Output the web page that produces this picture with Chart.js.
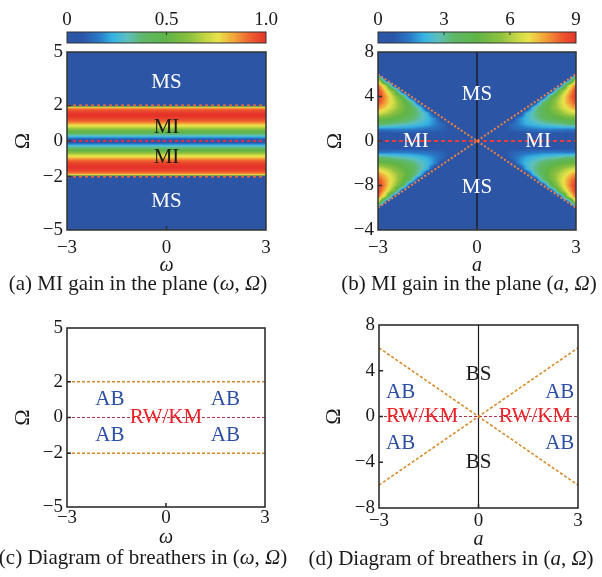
<!DOCTYPE html>
<html lang="en">
<head>
<meta charset="UTF-8" />
<title>MI gain and breathers</title>
<script src="https://cdn.jsdelivr.net/npm/chart.js@4.4.1/dist/chart.umd.min.js"></script>
<style>
body{margin:0;background:#fff;}
#wrap{position:relative;width:602px;height:577px;overflow:hidden;}
.panel{position:absolute;}
.cap{position:absolute;white-space:nowrap;font-family:"Liberation Serif","DejaVu Serif",serif;font-size:21px;line-height:24px;color:#1a1a1a;transform:translateX(-50%);}
</style>
</head>
<body>
<div id="wrap">
  <canvas id="chA" class="panel" style="left:0;top:0" width="301" height="300"></canvas>
  <canvas id="chB" class="panel" style="left:301px;top:0" width="301" height="300"></canvas>
  <canvas id="chC" class="panel" style="left:0;top:300px" width="301" height="277"></canvas>
  <canvas id="chD" class="panel" style="left:301px;top:300px" width="301" height="277"></canvas>
  <div class="cap" style="left:138px;top:271px">(a) MI gain in the plane (<i>ω</i>, <i>Ω</i>)</div>
  <div class="cap" style="left:469px;top:271px">(b) MI gain in the plane (<i>a</i>, <i>Ω</i>)</div>
  <div class="cap" style="left:143px;top:545px">(c) Diagram of breathers in (<i>ω</i>, <i>Ω</i>)</div>
  <div class="cap" style="left:451px;top:546px">(d) Diagram of breathers in (<i>a</i>, <i>Ω</i>)</div>
</div>
<script>
// ---- data ----
const xTicks = [-3, 0, 3];
const xTickLabels = ['−3', '0', '3'];

// (a)/(c): Omega axis
const omegaTicks = [-5, -2, 0, 2, 5];
const omegaTickLabels = ['−5', '−2', '0', '2', '5'];
// (b)/(d): Omega axis (labels as printed)
const omegaTicksB = [-8, -4, 0, 4, 8];
const omegaTickLabelsB = ['−4', '−8', '0', '4', '8'];
const omegaTickLabelsD = ['−8', '−4', '0', '4', '8'];

// colour bars
const cbTicksA = [0, 0.5, 1];
const cbLabelsA = ['0', '0.5', '1.0'];
const cbTicksB = [0, 3, 6, 9];
const cbLabelsB = ['0', '3', '6', '9'];

// (a) normalised gain vs |Omega| (same for every omega)
const profileOmega = [0,0.1,0.2,0.3,0.4,0.5,0.6,0.7,0.8,0.9,1.0,1.1,1.2,1.3,1.4,1.5,1.6,1.7,1.8,1.9,2.0];
const profileGain  = [0,0.10,0.20,0.30,0.38,0.47,0.56,0.64,0.72,0.78,0.85,0.91,0.95,0.98,1.0,1.0,0.98,0.95,0.90,0.78,0];

// (b) gain on a quadrant grid (|a| columns, |Omega| rows)
const gridA = [0,0.25,0.5,0.75,1,1.25,1.5,1.75,2,2.25,2.5,2.75,3];
const gridOmega = [0,0.5,1,1.5,2,2.5,3,3.5,4,4.5,5,5.5,6];
const gridGain = [
  [0,0,0,0,0,0,0,0,0,0,0,0,0],
  [0,0,0.2,0.3,0.4,0.3,0.3,0.3,0.3,0.3,0.3,0.3,0.3],
  [0,0,0,0.6,0.9,1.1,1.2,1.3,1.4,1.4,1.4,1.3,1.3],
  [0,0,0,0,1.0,1.5,2.0,2.3,2.6,2.8,3.0,3.3,3.5],
  [0,0,0,0,0,1.5,2.3,2.9,3.5,4.0,4.4,4.7,5.0],
  [0,0,0,0,0,0,2.1,3.1,3.9,4.7,5.4,6.1,6.6],
  [0,0,0,0,0,0,0,2.7,4.0,5.1,6.1,7.0,7.8],
  [0,0,0,0,0,0,0,0,3.4,4.9,6.3,7.5,8.6],
  [0,0,0,0,0,0,0,0,0,4.1,5.9,7.6,9.0],
  [0,0,0,0,0,0,0,0,0,0,4.9,7.0,8.9],
  [0,0,0,0,0,0,0,0,0,0,0,5.8,8.2],
  [0,0,0,0,0,0,0,0,0,0,0,0,6.8],
  [0,0,0,0,0,0,0,0,0,0,0,0,0]
];

// boundary lines
const lineEnds = [-3, 3];
const bandEdges = [2, -2];
const wedgeA = [-3, 0, 3];
const wedgeUpper = [6, 0, 6];
const wedgeLower = [-6, 0, -6];

// ---- helpers ----
Chart.defaults.font.family = '"Liberation Serif","DejaVu Serif",serif';
Chart.defaults.font.size = 19;
Chart.defaults.color = '#1a1a1a';
Chart.defaults.animation = false;
Chart.defaults.events = [];
Chart.defaults.plugins.legend.display = false;
Chart.defaults.plugins.tooltip.enabled = false;

const stops = [[0,'#2c55a5'],[0.08,'#2b57aa'],[0.16,'#2a78c6'],[0.23,'#35b3e2'],[0.30,'#5cbfc0'],[0.38,'#5fb86a'],
  [0.5,'#5fb445'],[0.62,'#8ec13f'],[0.70,'#c6d745'],[0.76,'#e9e34b'],[0.84,'#f2a43a'],[0.92,'#ee5f2e'],[1,'#e5332a']];
const stopRgb = stops.map(s=>[s[0],parseInt(s[1].slice(1,3),16),parseInt(s[1].slice(3,5),16),parseInt(s[1].slice(5,7),16)]);
function cmap(t){
  t=Math.max(0,Math.min(1,t));
  for(let i=1;i<stopRgb.length;i++){
    if(t<=stopRgb[i][0]){
      const a=stopRgb[i-1],b=stopRgb[i],f=(t-a[0])/(b[0]-a[0]);
      return [a[1]+(b[1]-a[1])*f,a[2]+(b[2]-a[2])*f,a[3]+(b[3]-a[3])*f];
    }
  }
  const l=stopRgb[stopRgb.length-1]; return [l[1],l[2],l[3]];
}
function locate(arr,v){
  const n=arr.length;
  if(v<=arr[0]) return [0,0];
  if(v>=arr[n-1]) return [n-2,1];
  let i=0; while(arr[i+1]<v) i++;
  return [i,(v-arr[i])/(arr[i+1]-arr[i])];
}
function gainA(w,om){
  const o=Math.abs(om);
  if(o>profileOmega[profileOmega.length-1]) return 0;
  const [i,f]=locate(profileOmega,o);
  return profileGain[i]+(profileGain[i+1]-profileGain[i])*f;
}
function gainB(a,om){
  const o=Math.abs(om);
  if(o>gridOmega[gridOmega.length-1]) return 0;
  const [i,fx]=locate(gridA,Math.abs(a));
  const [j,fy]=locate(gridOmega,o);
  const g00=gridGain[j][i],g10=gridGain[j][i+1],g01=gridGain[j+1][i],g11=gridGain[j+1][i+1];
  return (g00*(1-fx)+g10*fx)*(1-fy)+(g01*(1-fx)+g11*fx)*fy;
}

function axis(min,max,ticks,labels,o){
  return {
    type:'linear',min,max,position:o.pos,axis:o.axis,
    afterBuildTicks:s=>{s.ticks=ticks.map(v=>({value:v}));},
    afterFit:s=>{if(o.w!=null)s.width=o.w;if(o.h!=null)s.height=o.h;},
    grid:{display:false,drawTicks:false},
    border:{display:false},
    ticks:{autoSkip:false,maxRotation:0,padding:o.pad,callback:(v,i)=>labels[i]},
    title:o.title?{display:true,text:o.title,font:o.titleFont,padding:o.titlePad,color:'#1a1a1a'}:{display:false}
  };
}
function line(xs,ys,color,width,dash){
  return {data:xs.map((x,i)=>({x,y:ys[i]})),showLine:true,pointRadius:0,borderColor:color,borderWidth:width,borderDash:dash,xAxisID:'x',yAxisID:'y'};
}

function panelPlugin(cfg){
  return {
    id:'panel'+cfg.name,
    beforeDatasetsDraw(chart){
      const {ctx,chartArea:ca,scales:{x,y}}=chart;
      if(cfg.gain){
        const w=Math.round(ca.right-ca.left),h=Math.round(ca.bottom-ca.top);
        const bg=cmap(0);
        ctx.save();
        ctx.fillStyle=`rgb(${bg.map(Math.round).join(',')})`;
        ctx.fillRect(ca.left,ca.top,w,h);
        const off=document.createElement('canvas');off.width=w;off.height=h;
        const oc=off.getContext('2d');const img=oc.createImageData(w,h);
        for(let j=0;j<h;j++){
          const om=y.getValueForPixel(ca.top+j+0.5);
          for(let i=0;i<w;i++){
            const a=x.getValueForPixel(ca.left+i+0.5);
            const c=cmap(cfg.gain(a,om)/cfg.max);const k=(j*w+i)*4;
            img.data[k]=c[0];img.data[k+1]=c[1];img.data[k+2]=c[2];img.data[k+3]=255;
          }
        }
        oc.putImageData(img,0,0);
        if(cfg.clip){
          ctx.beginPath();
          cfg.clip.forEach(poly=>{
            poly.forEach((p,n)=>{const px=x.getPixelForValue(p[0]),py=y.getPixelForValue(p[1]);n?ctx.lineTo(px,py):ctx.moveTo(px,py);});
            ctx.closePath();
          });
          ctx.clip();
        }
        ctx.drawImage(off,ca.left,ca.top);
        ctx.restore();
      }
      if(cfg.cbMax){
        const cb=chart.scales.cb;const top=32,hh=11;
        ctx.save();
        for(let px=Math.floor(cb.left);px<Math.ceil(cb.right);px++){
          const c=cmap(cb.getValueForPixel(px+0.5)/cfg.cbMax);
          ctx.fillStyle=`rgb(${c.map(Math.round).join(',')})`;
          ctx.fillRect(px,top,1,hh);
        }
        ctx.strokeStyle='#333';ctx.lineWidth=1;
        ctx.strokeRect(cb.left,top,cb.right-cb.left,hh);
        ctx.beginPath();
        cb.ticks.slice(1,-1).forEach(t=>{const px=cb.getPixelForValue(t.value);ctx.moveTo(px,top);ctx.lineTo(px,top+3);});
        ctx.stroke();
        ctx.restore();
      }
    },
    afterDatasetsDraw(chart){
      const {ctx,chartArea:ca,scales:{x,y}}=chart;
      ctx.save();
      ctx.textAlign='center';ctx.textBaseline='middle';
      ctx.font='21px "Liberation Serif","DejaVu Serif",serif';
      cfg.labels.forEach(l=>{ctx.fillStyle=l.c;ctx.fillText(l.t,x.getPixelForValue(l.x),y.getPixelForValue(l.y));});
      ctx.strokeStyle=cfg.frame;ctx.lineWidth=1.5;
      ctx.strokeRect(ca.left,ca.top,ca.right-ca.left,ca.bottom-ca.top);
      ctx.beginPath();
      x.ticks.slice(1,-1).forEach(t=>{const px=x.getPixelForValue(t.value);ctx.moveTo(px,ca.bottom);ctx.lineTo(px,ca.bottom-4);});
      y.ticks.slice(1,-1).forEach(t=>{const py=y.getPixelForValue(t.value);ctx.moveTo(ca.left,py);ctx.lineTo(ca.left+4,py);});
      ctx.stroke();
      ctx.restore();
    }
  };
}

const italic20={size:20,style:'italic'};
const omegaTitle={size:22};

// ---- (a) ----
new Chart(document.getElementById('chA'),{
  type:'scatter',
  data:{datasets:[
    line(lineEnds,[bandEdges[0],bandEdges[0]],'#e8643a',2,[3,3]),
    line(lineEnds,[0,0],'#d8304a',2,[3,3]),
    line(lineEnds,[bandEdges[1],bandEdges[1]],'#e8643a',2,[3,3])
  ]},
  options:{
    responsive:false,
    layout:{padding:{left:0,right:35,top:0,bottom:22}},
    scales:{
      x:axis(-3,3,xTicks,xTickLabels,{pos:'bottom',axis:'x',h:48,pad:7,title:'ω',titleFont:italic20,titlePad:0}),
      y:axis(-5,5,omegaTicks,omegaTickLabels,{pos:'left',axis:'y',w:67,pad:4,title:'Ω',titleFont:omegaTitle,titlePad:{top:10,bottom:0}}),
      cb:axis(0,1,cbTicksA,cbLabelsA,{pos:'top',axis:'x',h:52,pad:21})
    }
  },
  plugins:[panelPlugin({name:'A',gain:gainA,max:1,cbMax:1,frame:'#333',labels:[
    {t:'MS',x:0,y:3.3,c:'#ffffff'},{t:'MI',x:0,y:0.75,c:'#1a1a1a'},
    {t:'MI',x:0,y:-0.9,c:'#1a1a1a'},{t:'MS',x:0,y:-3.4,c:'#ffffff'}]})]
});

// ---- (b) ----
const wedgeLeft=[[wedgeA[0],wedgeUpper[0]],[wedgeA[1],wedgeUpper[1]],[wedgeA[0],wedgeLower[0]]];
const wedgeRight=[[wedgeA[2],wedgeUpper[2]],[wedgeA[1],wedgeUpper[1]],[wedgeA[2],wedgeLower[2]]];
new Chart(document.getElementById('chB'),{
  type:'scatter',
  data:{datasets:[
    line(wedgeA,wedgeUpper,'#f08040',2,[2,2]),
    line(wedgeA,wedgeLower,'#f08040',2,[2,2]),
    line(lineEnds,[0,0],'#e83c3c',2,[4,3]),
    line([0,0],[-8,8],'#1c1c2c',1.5,[])
  ]},
  options:{
    responsive:false,
    layout:{padding:{left:0,right:26,top:0,bottom:22}},
    scales:{
      x:axis(-3,3,xTicks,xTickLabels,{pos:'bottom',axis:'x',h:48,pad:7,title:'a',titleFont:italic20,titlePad:0}),
      y:axis(-8,8,omegaTicksB,omegaTickLabelsB,{pos:'left',axis:'y',w:77,pad:4,title:'Ω',titleFont:omegaTitle,titlePad:{top:21,bottom:0}}),
      cb:axis(0,9,cbTicksB,cbLabelsB,{pos:'top',axis:'x',h:52,pad:21})
    }
  },
  plugins:[panelPlugin({name:'B',gain:gainB,max:9,cbMax:9,frame:'#333',clip:[wedgeLeft,wedgeRight],labels:[
    {t:'MS',x:0,y:4.2,c:'#ffffff'},{t:'MS',x:0,y:-4.2,c:'#ffffff'},
    {t:'MI',x:-1.85,y:0,c:'#ffffff'},{t:'MI',x:1.85,y:0,c:'#ffffff'}]})]
});

// ---- (c) ----
new Chart(document.getElementById('chC'),{
  type:'scatter',
  data:{datasets:[
    line(lineEnds,[bandEdges[0],bandEdges[0]],'#d98b2b',1.6,[3,2]),
    line(lineEnds,[0,0],'#a8344e',1.2,[3,2]),
    line(lineEnds,[bandEdges[1],bandEdges[1]],'#d98b2b',1.6,[3,2])
  ]},
  options:{
    responsive:false,
    layout:{padding:{left:0,right:36,top:28,bottom:27}},
    scales:{
      x:axis(-3,3,xTicks,xTickLabels,{pos:'bottom',axis:'x',h:43,pad:0,title:'ω',titleFont:italic20,titlePad:0}),
      y:axis(-5,5,omegaTicks,omegaTickLabels,{pos:'left',axis:'y',w:67,pad:4,title:'Ω',titleFont:omegaTitle,titlePad:{top:10,bottom:0}})
    }
  },
  plugins:[panelPlugin({name:'C',frame:'#222',labels:[
    {t:'AB',x:-1.7,y:1.0,c:'#2b4ea6'},{t:'AB',x:1.8,y:1.0,c:'#2b4ea6'},
    {t:'AB',x:-1.7,y:-1.0,c:'#2b4ea6'},{t:'AB',x:1.8,y:-1.0,c:'#2b4ea6'},
    {t:'RW/KM',x:0,y:0,c:'#ec2227'}]})]
});

// ---- (d) ----
new Chart(document.getElementById('chD'),{
  type:'scatter',
  data:{datasets:[
    line(wedgeA,wedgeUpper,'#d98b2b',1.6,[3,2]),
    line(wedgeA,wedgeLower,'#d98b2b',1.6,[3,2]),
    line(lineEnds,[0,0],'#a8344e',1.2,[3,2]),
    line([0,0],[-8,8],'#1a1a1a',1.2,[])
  ]},
  options:{
    responsive:false,
    layout:{padding:{left:0,right:24,top:25,bottom:25}},
    scales:{
      x:axis(-3,3,xTicks,xTickLabels,{pos:'bottom',axis:'x',h:44,pad:2,title:'a',titleFont:italic20,titlePad:0}),
      y:axis(-8,8,omegaTicksB,omegaTickLabelsD,{pos:'left',axis:'y',w:78,pad:4,title:'Ω',titleFont:omegaTitle,titlePad:{top:20,bottom:0}})
    }
  },
  plugins:[panelPlugin({name:'D',frame:'#222',labels:[
    {t:'AB',x:-2.35,y:2.1,c:'#2b4ea6'},{t:'AB',x:2.45,y:2.1,c:'#2b4ea6'},
    {t:'AB',x:-2.35,y:-2.4,c:'#2b4ea6'},{t:'AB',x:2.45,y:-2.4,c:'#2b4ea6'},
    {t:'RW/KM',x:-1.7,y:0,c:'#ec2227'},{t:'RW/KM',x:1.7,y:0,c:'#ec2227'},
    {t:'BS',x:0,y:3.7,c:'#1a1a1a'},{t:'BS',x:0,y:-4.0,c:'#1a1a1a'}]})]
});
</script>
</body>
</html>
